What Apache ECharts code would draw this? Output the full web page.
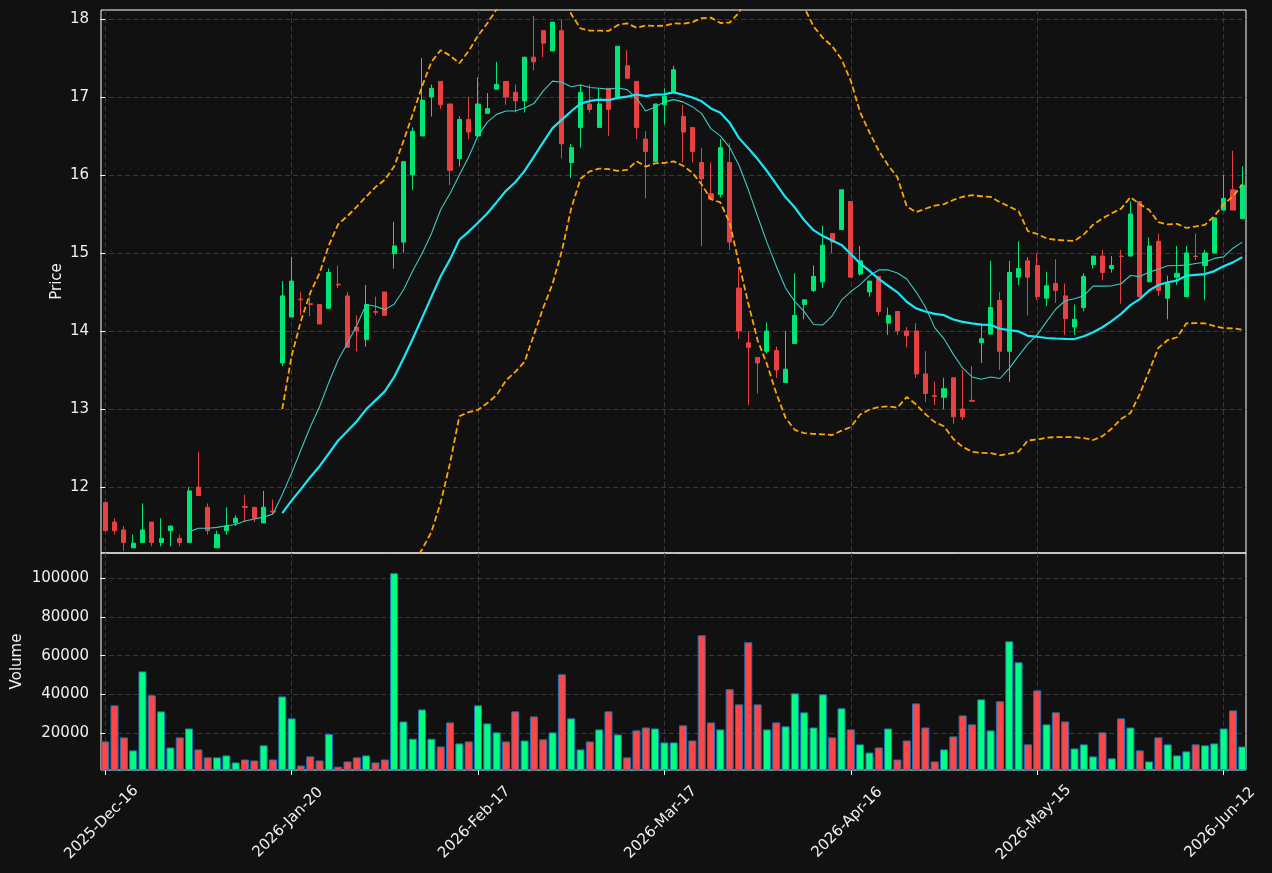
<!DOCTYPE html>
<html><head><meta charset="utf-8">
<script src="https://cdn.jsdelivr.net/npm/echarts@6/dist/echarts.min.js"></script>
<style>html,body{margin:0;padding:0;background:#111111;}#chart{width:1272px;height:873px;}</style>
</head><body><div id="chart"></div>
<script>
const dates = [
'2025-Dec-16','2025-Dec-17','2025-Dec-18','2025-Dec-19','2025-Dec-22','2025-Dec-23','2025-Dec-24','2025-Dec-29','2025-Dec-30','2025-Dec-31',
'2026-Jan-05','2026-Jan-06','2026-Jan-07','2026-Jan-08','2026-Jan-09','2026-Jan-12','2026-Jan-13','2026-Jan-14','2026-Jan-15','2026-Jan-16','2026-Jan-20',
'2026-Jan-21','2026-Jan-22','2026-Jan-23','2026-Jan-26','2026-Jan-27','2026-Jan-28','2026-Jan-29','2026-Jan-30',
'2026-Feb-02','2026-Feb-03','2026-Feb-04','2026-Feb-05','2026-Feb-06','2026-Feb-09','2026-Feb-10','2026-Feb-11','2026-Feb-12','2026-Feb-13','2026-Feb-16','2026-Feb-17',
'2026-Feb-18','2026-Feb-19','2026-Feb-20','2026-Feb-23','2026-Feb-24','2026-Feb-25','2026-Feb-26','2026-Feb-27',
'2026-Mar-02','2026-Mar-03','2026-Mar-04','2026-Mar-05','2026-Mar-06','2026-Mar-09','2026-Mar-10','2026-Mar-11','2026-Mar-12','2026-Mar-13','2026-Mar-16','2026-Mar-17',
'2026-Mar-18','2026-Mar-19','2026-Mar-20','2026-Mar-23','2026-Mar-24','2026-Mar-25','2026-Mar-26','2026-Mar-27','2026-Mar-30','2026-Mar-31',
'2026-Apr-01','2026-Apr-02','2026-Apr-07','2026-Apr-08','2026-Apr-09','2026-Apr-10','2026-Apr-13','2026-Apr-14','2026-Apr-15','2026-Apr-16',
'2026-Apr-17','2026-Apr-20','2026-Apr-21','2026-Apr-22','2026-Apr-23','2026-Apr-24','2026-Apr-27','2026-Apr-28','2026-Apr-29','2026-Apr-30',
'2026-May-04','2026-May-05','2026-May-06','2026-May-07','2026-May-08','2026-May-11','2026-May-12','2026-May-13','2026-May-14','2026-May-15',
'2026-May-18','2026-May-19','2026-May-20','2026-May-21','2026-May-22','2026-May-25','2026-May-26','2026-May-27','2026-May-28','2026-May-29',
'2026-Jun-01','2026-Jun-02','2026-Jun-03','2026-Jun-04','2026-Jun-05','2026-Jun-08','2026-Jun-09','2026-Jun-10','2026-Jun-11','2026-Jun-12',
'2026-Jun-15','2026-Jun-16'];

const opens = [11.80,11.55,11.45,11.22,11.29,11.55,11.29,11.44,11.34,11.29,
12.00,11.74,11.22,11.44,11.54,11.75,11.74,11.54,11.69,13.59,
14.18,14.41,14.35,14.34,14.29,14.60,14.45,14.05,13.89,14.25,
14.50,14.99,15.14,16.00,16.50,17.00,17.20,16.91,16.21,16.71,
16.50,16.79,17.10,17.20,17.06,16.95,17.51,17.85,17.59,17.85,
16.16,16.61,16.91,16.61,17.11,17.00,17.40,17.20,16.46,16.17,
16.90,17.06,16.75,16.61,16.16,15.76,15.75,16.16,14.55,13.85,
13.66,13.74,13.75,13.34,13.84,14.34,14.52,14.63,15.25,15.30,
15.66,14.73,14.50,14.70,14.10,14.25,14.00,14.00,13.45,13.17,
13.15,13.40,13.00,13.11,13.85,13.96,14.39,13.74,14.69,14.90,
14.84,14.42,14.61,14.45,14.05,14.30,14.85,14.96,14.80,14.96,
14.96,15.66,14.63,15.15,14.42,14.69,14.44,14.96,14.84,15.00,
15.55,15.81,15.44];
const highs = [11.80,11.60,11.50,11.39,11.79,11.55,11.60,11.50,11.39,12.00,
12.45,11.79,11.44,11.74,11.64,11.90,11.74,11.95,11.84,14.64,
14.95,14.50,14.44,14.34,14.80,14.84,14.50,14.20,14.59,14.44,
14.50,15.40,16.17,16.61,17.50,17.16,17.20,16.91,16.75,17.00,
17.25,17.05,17.45,17.20,17.16,17.51,18.04,17.85,17.96,17.99,
16.40,17.16,17.16,17.11,17.11,17.65,17.60,17.20,16.56,16.91,
17.11,17.40,16.90,16.61,16.35,16.16,16.46,16.41,14.82,14.00,
13.66,14.11,13.80,14.00,14.74,14.40,14.84,15.35,15.25,15.81,
15.66,15.09,14.64,14.70,14.30,14.25,14.05,14.10,13.74,13.35,
13.40,13.40,13.50,13.55,14.10,14.90,14.50,14.90,15.15,14.95,
15.00,14.76,14.92,14.61,14.34,14.74,14.96,15.04,14.96,15.04,
15.66,15.66,15.20,15.25,14.71,15.09,15.09,15.25,15.04,15.45,
16.00,16.31,16.11];
const lows = [11.44,11.39,11.18,11.22,11.29,11.24,11.24,11.24,11.24,11.29,
11.89,11.39,11.22,11.39,11.50,11.55,11.55,11.54,11.65,13.55,
14.18,14.20,14.19,14.09,14.29,14.55,13.79,13.74,13.80,14.20,
14.20,14.80,15.00,15.81,16.50,16.75,16.85,15.87,16.11,16.46,
16.50,16.79,17.10,16.90,16.80,16.80,17.34,17.51,17.59,16.21,
15.96,16.35,16.80,16.61,16.50,17.00,17.24,16.46,15.70,16.17,
16.65,17.06,16.16,16.16,15.09,15.69,15.71,15.04,13.90,13.05,
13.20,13.71,13.40,13.34,13.84,14.15,14.50,14.55,15.00,15.30,
14.69,14.71,14.44,14.20,13.95,13.95,13.79,13.40,13.09,13.05,
13.00,12.81,12.86,13.10,13.59,13.96,13.50,13.35,14.59,14.20,
14.40,14.32,14.36,13.95,13.95,14.25,14.80,14.65,14.75,14.35,
14.96,14.44,14.63,14.45,14.15,14.59,14.44,14.91,14.40,15.00,
15.55,15.55,15.44];
const closes = [11.44,11.44,11.29,11.28,11.45,11.29,11.34,11.50,11.29,11.95,
11.89,11.44,11.39,11.50,11.60,11.74,11.60,11.74,11.68,14.45,
14.64,14.40,14.34,14.09,14.75,14.59,13.79,14.00,14.34,14.24,
14.20,15.09,16.17,16.56,16.96,17.11,16.90,16.06,16.71,16.55,
16.91,16.85,17.16,17.00,16.95,17.51,17.45,17.69,17.96,16.40,
16.35,17.06,16.84,16.91,16.84,17.65,17.24,16.61,16.30,16.91,
17.01,17.35,16.55,16.30,15.95,15.69,16.35,15.14,14.00,13.79,
13.59,14.00,13.50,13.51,14.20,14.40,14.70,15.10,15.14,15.81,
14.69,14.90,14.64,14.25,14.20,14.00,13.94,13.45,13.20,13.16,
13.26,12.90,12.90,13.10,13.90,14.30,13.74,14.75,14.80,14.69,
14.44,14.58,14.52,14.16,14.15,14.70,14.96,14.75,14.84,14.955,
15.50,14.44,15.09,14.52,14.61,14.74,15.00,14.955,15.00,15.45,
15.70,15.55,15.87];
const volumes = [15800,34400,17900,11200,51900,39600,31300,12700,17900,22500,
11700,7600,7600,8600,5000,6500,6000,13800,6500,39000,
27700,3400,8100,6000,19600,2800,5500,7600,8600,5000,
6500,102500,26100,17200,32300,17200,13200,25600,14800,15800,
34400,25100,20500,15800,31300,16300,28700,16900,20500,50400,
27700,11700,15800,22000,31300,19400,7600,21500,23000,22500,
15300,15300,24100,16300,70500,25600,22000,42700,34900,66900,
34900,22000,25600,23600,40600,30800,23000,40100,17900,32900,
22000,14300,10100,12700,22500,6500,16300,35400,23000,5500,
11700,18400,29200,24600,37500,21500,36500,67400,56600,14300,
42100,24600,30800,26100,12200,14300,8100,20500,7100,27700,
23000,11200,5500,17900,14300,8600,10700,14300,13800,14800,
22500,31800,13200];

const tickIdx = [0,20,40,60,80,100,120];
const priceTicks = [12,13,14,15,16,17,18];
const volTicks = [20000,40000,60000,80000,100000];

const UP = '#00e676', DOWN = '#e84142', VUP = '#00ff80', VDOWN = '#ff4545';

function sma(arr, n) {
  return arr.map((_, i) => {
    if (i < n - 1) return null;
    let s = 0; for (let k = i - n + 1; k <= i; k++) s += arr[k];
    return s / n;
  });
}
function stdev(arr, n, ma) {
  return arr.map((_, i) => {
    if (i < n - 1) return null;
    let s = 0; for (let k = i - n + 1; k <= i; k++) s += (arr[k] - ma[i]) ** 2;
    return Math.sqrt(s / n);
  });
}
const ma10 = sma(closes, 10);
const ma20 = sma(closes, 20);
const sd20 = stdev(closes, 20, ma20);
const bbUp = ma20.map((m, i) => m == null ? null : m + 2 * sd20[i]);
const bbLo = ma20.map((m, i) => m == null ? null : m - 2 * sd20[i]);
const toXY = arr => arr.map((v, i) => v == null ? null : [i, v]).filter(d => d);

const candleData = opens.map((o, i) => [i, o, closes[i], lows[i], highs[i]]);
const volData = volumes.map((v, i) => ({
  value: [i, v],
  itemStyle: { color: closes[i] >= opens[i] ? VUP : VDOWN }
}));

const FONT = 'DejaVu Sans';
const TXT = '#f0f0f0';
const FS = 15;
const gridLine = { show: true, lineStyle: { color: '#3e3e3e', width: 0.9, type: [5, 3] } };

const chart = echarts.init(document.getElementById('chart'), null, { renderer: 'canvas' });
chart.setOption({
  backgroundColor: '#111111',
  animation: false,
  textStyle: { fontFamily: FONT },
  grid: [
    { left: 101, right: 26, top: 10, height: 543, show: true, borderColor: '#ffffff', borderWidth: 1, backgroundColor: 'transparent' },
    { left: 101, right: 26, top: 553, height: 217, show: true, borderColor: '#ffffff', borderWidth: 1, backgroundColor: 'transparent' }
  ],
  xAxis: [
    { type: 'value', gridIndex: 0, min: -0.45, max: 122.4,
      axisLine: { show: false, onZero: false },
      axisTick: { show: false, customValues: tickIdx },
      axisLabel: { show: false, customValues: tickIdx },
      splitLine: gridLine },
    { type: 'value', gridIndex: 1, min: -0.45, max: 122.4,
      axisLine: { show: false, onZero: false },
      axisTick: { show: true, customValues: tickIdx, length: 5, lineStyle: { color: '#ffffff' } },
      axisLabel: { customValues: tickIdx, formatter: v => dates[Math.round(v)], rotate: 45,
        align: 'center', verticalAlign: 'middle', margin: 49, padding: [0, 10, 0, 0],
        color: TXT, fontSize: FS, fontFamily: FONT },
      splitLine: gridLine }
  ],
  yAxis: [
    { type: 'value', gridIndex: 0, min: 11.154, max: 18.115,
      name: 'Price', nameLocation: 'middle', nameRotate: 90, nameGap: 36, nameMoveOverlap: false,
      nameTextStyle: { color: TXT, fontSize: FS, fontFamily: FONT },
      axisLine: { show: false },
      axisTick: { show: true, customValues: priceTicks, length: 5, lineStyle: { color: '#ffffff' } },
      axisLabel: { customValues: priceTicks, color: TXT, fontSize: FS, margin: 12, fontFamily: FONT },
      splitLine: gridLine },
    { type: 'value', gridIndex: 1, min: 1100, max: 112900,
      name: 'Volume', nameLocation: 'middle', nameRotate: 90, nameGap: 76, nameMoveOverlap: false,
      nameTextStyle: { color: TXT, fontSize: FS, fontFamily: FONT },
      axisLine: { show: false },
      axisTick: { show: true, customValues: volTicks, length: 5, lineStyle: { color: '#ffffff' } },
      axisLabel: { customValues: volTicks, formatter: v => String(v), color: TXT, fontSize: FS, margin: 12, fontFamily: FONT },
      splitLine: gridLine }
  ],
  series: [
    { type: 'candlestick', xAxisIndex: 0, yAxisIndex: 0, data: candleData,
      encode: { x: 0, y: [1, 2, 3, 4] }, barWidth: 4.6, clip: true,
      itemStyle: { color: UP, color0: DOWN, borderColor: UP, borderColor0: DOWN, borderWidth: 1 } },
    { type: 'line', xAxisIndex: 0, yAxisIndex: 0, data: toXY(ma10), showSymbol: false, symbol: 'none',
      lineStyle: { color: '#3fc9c0', width: 1.1 }, z: 3 },
    { type: 'line', xAxisIndex: 0, yAxisIndex: 0, data: toXY(ma20), showSymbol: false, symbol: 'none',
      lineStyle: { color: '#1ae6f5', width: 2.2 }, z: 3 },
    { type: 'line', xAxisIndex: 0, yAxisIndex: 0, data: toXY(bbUp), showSymbol: false, symbol: 'none',
      lineStyle: { color: '#ffa500', width: 1.8, type: [6, 3] }, z: 3 },
    { type: 'line', xAxisIndex: 0, yAxisIndex: 0, data: toXY(bbLo), showSymbol: false, symbol: 'none',
      lineStyle: { color: '#ffa500', width: 1.8, type: [6, 3] }, z: 3 },
    { type: 'bar', xAxisIndex: 1, yAxisIndex: 1, data: volData, barWidth: 8, clip: true,
      itemStyle: { borderColor: '#1f77b4', borderWidth: 1 } }
  ]
});
</script></body></html>
